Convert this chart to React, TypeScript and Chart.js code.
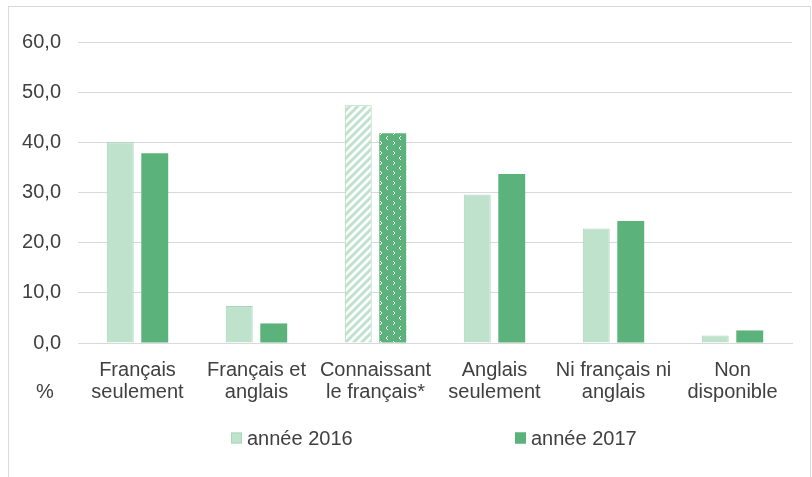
import React, { useEffect, useRef } from "react";
import { Chart, registerables } from "chart.js";

Chart.register(...registerables);

const categories: string[][] = [
  ["Français", "seulement"],
  ["Français et", "anglais"],
  ["Connaissant", "le français*"],
  ["Anglais", "seulement"],
  ["Ni français ni", "anglais"],
  ["Non", "disponible"],
];
const seriesLabels = ["année 2016", "année 2017"];
const values2016 = [40.0, 7.4, 47.4, 29.6, 22.8, 1.5];
const values2017 = [37.8, 3.9, 41.8, 33.7, 24.3, 2.5];
const patternedIndex = 2;
const yUnitLabel = "%";

const FONT = '"Liberation Sans", Arial, sans-serif';
const TEXT = "#404040";
const LIGHT = "#bfe2cd";
const LIGHT_BORDER = "#a9d6ba";
const DARK = "#5bb37b";
const GRID = "#d9d9d9";

function stripePattern(ctx: CanvasRenderingContext2D): CanvasPattern | string {
  const c = document.createElement("canvas");
  c.width = 8;
  c.height = 8;
  const g = c.getContext("2d")!;
  g.fillStyle = "#ffffff";
  g.fillRect(0, 0, 8, 8);
  g.strokeStyle = LIGHT;
  g.lineWidth = 3;
  const segs = [
    [-4, 4, 4, -4],
    [0, 8, 8, 0],
    [4, 12, 12, 4],
  ];
  for (const s of segs) {
    g.beginPath();
    g.moveTo(s[0], s[1]);
    g.lineTo(s[2], s[3]);
    g.stroke();
  }
  return ctx.createPattern(c, "repeat") || LIGHT;
}

function chevronPattern(ctx: CanvasRenderingContext2D): CanvasPattern | string {
  const c = document.createElement("canvas");
  c.width = 13;
  c.height = 10;
  const g = c.getContext("2d")!;
  g.fillStyle = DARK;
  g.fillRect(0, 0, 13, 10);
  g.strokeStyle = "#ffffff";
  g.lineWidth = 1;
  g.beginPath();
  g.moveTo(3, 1);
  g.lineTo(5, 3);
  g.lineTo(3, 5);
  g.stroke();
  g.beginPath();
  g.moveTo(11, 6);
  g.lineTo(9, 8);
  g.lineTo(11, 10);
  g.stroke();
  g.beginPath();
  g.moveTo(11, -4);
  g.lineTo(9, -2);
  g.lineTo(11, 0);
  g.stroke();
  return ctx.createPattern(c, "repeat") || DARK;
}

export default function App() {
  const ref = useRef<HTMLCanvasElement | null>(null);

  useEffect(() => {
    const canvas = ref.current!;
    const ctx = canvas.getContext("2d")!;
    const stripes = stripePattern(ctx);
    const chevrons = chevronPattern(ctx);

    const bg2016 = values2016.map((_, i) => (i === patternedIndex ? stripes : LIGHT));
    const bg2017 = values2017.map((_, i) => (i === patternedIndex ? chevrons : DARK));

    const framePlugin = {
      id: "frame",
      beforeDraw(chart: any) {
        const c = chart.ctx;
        c.save();
        c.fillStyle = "#ffffff";
        c.fillRect(0, 0, chart.width, chart.height);
        c.strokeStyle = GRID;
        c.lineWidth = 1;
        c.strokeRect(8.5, 6.5, 802, 520);
        c.restore();
      },
      afterDraw(chart: any) {
        const c = chart.ctx;
        const ca = chart.chartArea;
        c.save();
        c.font = `20px ${FONT}`;
        c.fillStyle = TEXT;
        c.textBaseline = "middle";
        c.textAlign = "center";
        c.fillText(yUnitLabel, 45, ca.bottom + 49);
        // legend
        const cx = (ca.left + ca.right) / 2;
        const y = 438;
        const xs = [cx - 204, cx + 80];
        const fills = [LIGHT, DARK];
        const borders = [LIGHT_BORDER, DARK];
        c.textAlign = "left";
        chart.data.datasets.forEach((ds: any, i: number) => {
          c.fillStyle = fills[i];
          c.fillRect(xs[i], y - 5.5, 11, 11);
          c.strokeStyle = borders[i];
          c.strokeRect(xs[i] + 0.5, y - 5, 10, 10);
          c.fillStyle = TEXT;
          c.fillText(ds.label, xs[i] + 16, y + 1);
        });
        c.restore();
      },
    };

    const chart = new Chart(canvas, {
      type: "bar",
      data: {
        labels: categories,
        datasets: [
          {
            label: seriesLabels[0],
            data: values2016,
            backgroundColor: bg2016 as any,
            borderColor: LIGHT_BORDER,
            borderWidth: 1,
            categoryPercentage: 0.58,
            barPercentage: 0.78,
          },
          {
            label: seriesLabels[1],
            data: values2017,
            backgroundColor: bg2017 as any,
            borderColor: DARK,
            borderWidth: 0,
            categoryPercentage: 0.58,
            barPercentage: 0.78,
          },
        ],
      },
      options: {
        responsive: false,
        maintainAspectRatio: false,
        animation: false,
        layout: { padding: { top: 42, right: 20, bottom: 74, left: 0 } },
        plugins: {
          legend: { display: false },
          tooltip: { enabled: false },
        },
        scales: {
          x: {
            grid: { display: false, drawTicks: false },
            border: { display: true, color: GRID, width: 1 },
            ticks: {
              color: TEXT,
              font: { family: FONT, size: 20, lineHeight: 1.1 },
              padding: 16,
              maxRotation: 0,
              autoSkip: false,
            },
            afterFit(scale: any) {
              scale.height = 60;
            },
          },
          y: {
            min: 0,
            max: 60,
            grid: { color: GRID, drawTicks: false, lineWidth: 1 },
            border: { display: false },
            ticks: {
              stepSize: 10,
              color: TEXT,
              font: { family: FONT, size: 20 },
              padding: 17,
              callback: (v: any) => Number(v).toFixed(1).replace(".", ","),
            },
            afterFit(scale: any) {
              scale.width = 78;
            },
          },
        },
      },
      plugins: [framePlugin],
    });
    return () => chart.destroy();
  }, []);

  return (
    <div style={{ position: "fixed", left: 0, top: 0, width: 812, height: 477 }}>
      <canvas ref={ref} width={812} height={477} style={{ display: "block" }} />
    </div>
  );
}
